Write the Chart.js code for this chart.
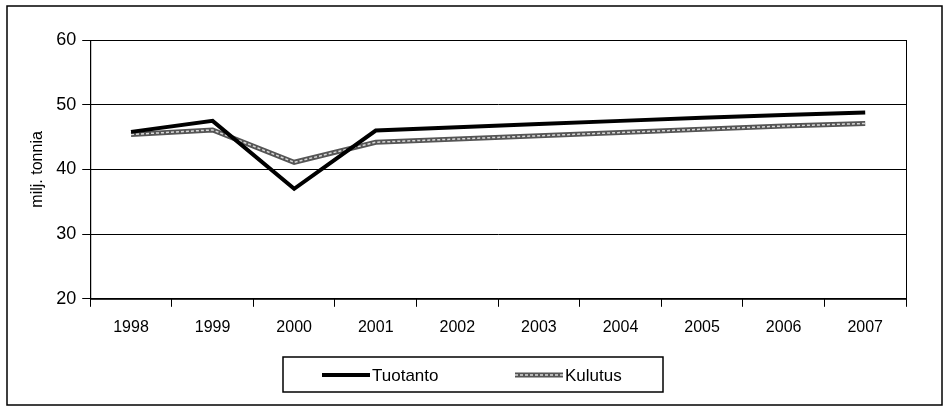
<!DOCTYPE html>
<html>
  <head>
    <title>Tuotanto ja kulutus</title>
    <script src="https://cdn.jsdelivr.net/npm/chart.js@4/dist/chart.umd.min.js"></script>
    <style>
      body { margin: 0; background: #fff; }
      #container { width: 944px; height: 411px; }
    </style>
  </head>

  <body>
    <div id="container">
      <canvas id="canvas" width="944" height="411"></canvas>
    </div>
    <script>
      const years = ['1998', '1999', '2000', '2001', '2002', '2003', '2004', '2005', '2006', '2007'];
      const tuotanto = [45.8, 47.5, 37.0, 46.0, 46.5, 47.0, 47.5, 48.0, 48.4, 48.8];
      const kulutus = [45.4, 46.1, 41.1, 44.2, 44.7, 45.2, 45.7, 46.2, 46.7, 47.1];
      const yTicks = [20, 30, 40, 50, 60];

      const fontFamily = '"Liberation Sans", Arial, sans-serif';

      // frames (whole chart, plot area) and the boxed legend under the plot
      const frames = {
        id: 'frames',
        afterDraw(chart) {
          const ctx = chart.ctx;
          const a = chart.chartArea;
          ctx.save();
          ctx.strokeStyle = '#000';
          ctx.lineWidth = 1;
          ctx.strokeRect(a.left + 0.5, a.top + 0.5, a.right - a.left, a.bottom - a.top);
          ctx.lineWidth = 1.5;
          ctx.strokeRect(7, 6, 935, 399);

          // legend box
          ctx.strokeRect(283, 357, 380, 35);
          const rowY = 375;
          const items = [
            { ds: chart.data.datasets[0], x: 322, inner: null },
            { ds: chart.data.datasets[1], x: 515, inner: chart.data.datasets[2] },
          ];
          ctx.font = '17px ' + fontFamily;
          ctx.textBaseline = 'middle';
          ctx.fillStyle = '#000';
          items.forEach(it => {
            ctx.setLineDash([]);
            ctx.strokeStyle = it.ds.borderColor;
            ctx.lineWidth = it.ds.borderWidth;
            ctx.beginPath();
            ctx.moveTo(it.x, rowY);
            ctx.lineTo(it.x + 48, rowY);
            ctx.stroke();
            if (it.inner) {
              ctx.strokeStyle = it.inner.borderColor;
              ctx.lineWidth = it.inner.borderWidth;
              ctx.setLineDash(it.inner.borderDash);
              ctx.beginPath();
              ctx.moveTo(it.x, rowY);
              ctx.lineTo(it.x + 48, rowY);
              ctx.stroke();
              ctx.setLineDash([]);
            }
            ctx.fillText(it.ds.label, it.x + 50, rowY + 1);
          });
          ctx.restore();
        }
      };

      window.onload = () => {
        const ctx = document.getElementById('canvas').getContext('2d');
        new Chart(ctx, {
          type: 'line',
          data: {
            labels: years,
            datasets: [
              {
                label: 'Tuotanto',
                data: tuotanto,
                borderColor: '#000',
                backgroundColor: '#000',
                borderWidth: 4,
                pointRadius: 0,
                tension: 0,
                order: 1,
              },
              {
                label: 'Kulutus',
                data: kulutus,
                borderColor: '#555',
                backgroundColor: '#555',
                borderWidth: 5,
                pointRadius: 0,
                tension: 0,
                order: 3,
              },
              {
                label: 'kulutus-inner',
                data: kulutus,
                borderColor: '#d8d8d8',
                borderWidth: 1.5,
                borderDash: [3, 2],
                pointRadius: 0,
                tension: 0,
                order: 2,
              },
            ],
          },
          options: {
            responsive: false,
            animation: false,
            layout: { padding: { left: 24, right: 38, top: 40, bottom: 63 } },
            plugins: {
              title: { display: false },
              tooltip: { enabled: false },
              legend: { display: false },
            },
            scales: {
              x: {
                offset: true,
                grid: {
                  offset: true,
                  drawOnChartArea: false,
                  color: '#000',
                  tickLength: 8,
                },
                border: { color: '#000', width: 1 },
                ticks: {
                  color: '#000',
                  padding: 11,
                  maxRotation: 0,
                  font: { family: fontFamily, size: 16 },
                },
              },
              y: {
                min: 20,
                max: 60,
                afterBuildTicks: axis => {
                  axis.ticks = yTicks.map(v => ({ value: v }));
                },
                grid: { color: '#000', tickLength: 8 },
                border: { color: '#000', width: 1 },
                ticks: {
                  color: '#000',
                  padding: 6,
                  font: { family: fontFamily, size: 18 },
                },
                title: {
                  display: true,
                  text: 'milj. tonnia',
                  color: '#000',
                  padding: { bottom: 3 },
                  font: { family: fontFamily, size: 16 },
                },
              },
            },
          },
          plugins: [frames],
        });
      };
    </script>
  </body>
</html>
